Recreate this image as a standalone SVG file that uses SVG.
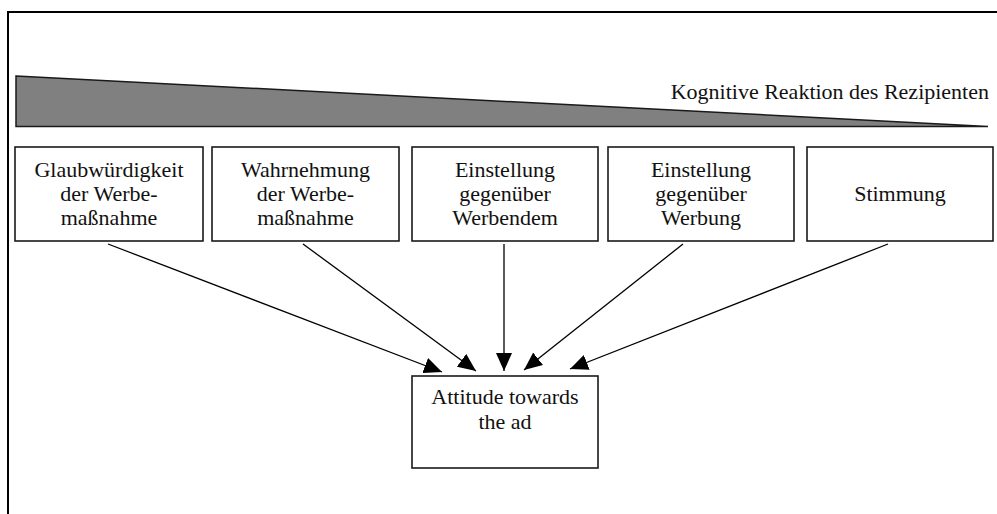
<svg xmlns="http://www.w3.org/2000/svg" width="997" height="514" viewBox="0 0 997 514">
<defs>
<style>
.box{fill:#fff;stroke:#1a1a1a;stroke-width:1.6}
.t{font-family:'Liberation Serif','Times New Roman',Times,serif;font-size:22px;fill:#111;text-anchor:middle}
.c{stroke:#000;stroke-width:1.3;fill:none;marker-end:url(#ah)}
</style>
<marker id="ah" markerUnits="userSpaceOnUse" markerWidth="18" markerHeight="16" refX="18" refY="8" orient="auto" viewBox="0 0 18 16">
<path d="M0,0 L18,8 L0,16 z" fill="#000"/>
</marker>
</defs>
<g id="frame"><path d="M8,514 V12 H997" fill="none" stroke="#000" stroke-width="2"/></g>
<g id="wedge">
<polygon points="16,76 988,126.5 16,126.5" fill="#808080" stroke="#1a1a1a" stroke-width="1.5"/>
<text class="t" font-family="Liberation Serif, serif" x="989" y="99" style="text-anchor:end">Kognitive Reaktion des Rezipienten</text>
</g>
<g id="n1" font-family="Liberation Serif, serif"><rect class="box" x="15" y="147" width="188" height="94"/>
<text class="t" x="109" y="177">Glaubwürdigkeit</text><text class="t" x="109" y="201">der Werbe-</text><text class="t" x="109" y="225">maßnahme</text></g>
<g id="n2"><rect class="box" x="212" y="147" width="187" height="94"/>
<text class="t" x="305.5" y="177">Wahrnehmung</text><text class="t" x="305.5" y="201">der Werbe-</text><text class="t" x="305.5" y="225">maßnahme</text></g>
<g id="n3"><rect class="box" x="412" y="147" width="186" height="94"/>
<text class="t" x="505" y="177">Einstellung</text><text class="t" x="505" y="201">gegenüber</text><text class="t" x="505" y="225">Werbendem</text></g>
<g id="n4"><rect class="box" x="608" y="147" width="186" height="94"/>
<text class="t" x="701" y="177">Einstellung</text><text class="t" x="701" y="201">gegenüber</text><text class="t" x="701" y="225">Werbung</text></g>
<g id="n5"><rect class="box" x="807" y="147" width="186" height="94"/>
<text class="t" x="900" y="201">Stimmung</text></g>
<g id="n6"><rect class="box" x="412" y="376" width="186" height="92"/>
<text class="t" x="505" y="404">Attitude towards</text><text class="t" x="505" y="429">the ad</text></g>
<g id="connectors">
<line class="c" x1="108" y1="244" x2="442" y2="372"/>
<line class="c" x1="303" y1="244" x2="476" y2="371"/>
<line class="c" x1="504" y1="244" x2="504" y2="371"/>
<line class="c" x1="683" y1="244" x2="524" y2="370"/>
<line class="c" x1="888" y1="244" x2="570" y2="369"/>
</g>
</svg>
